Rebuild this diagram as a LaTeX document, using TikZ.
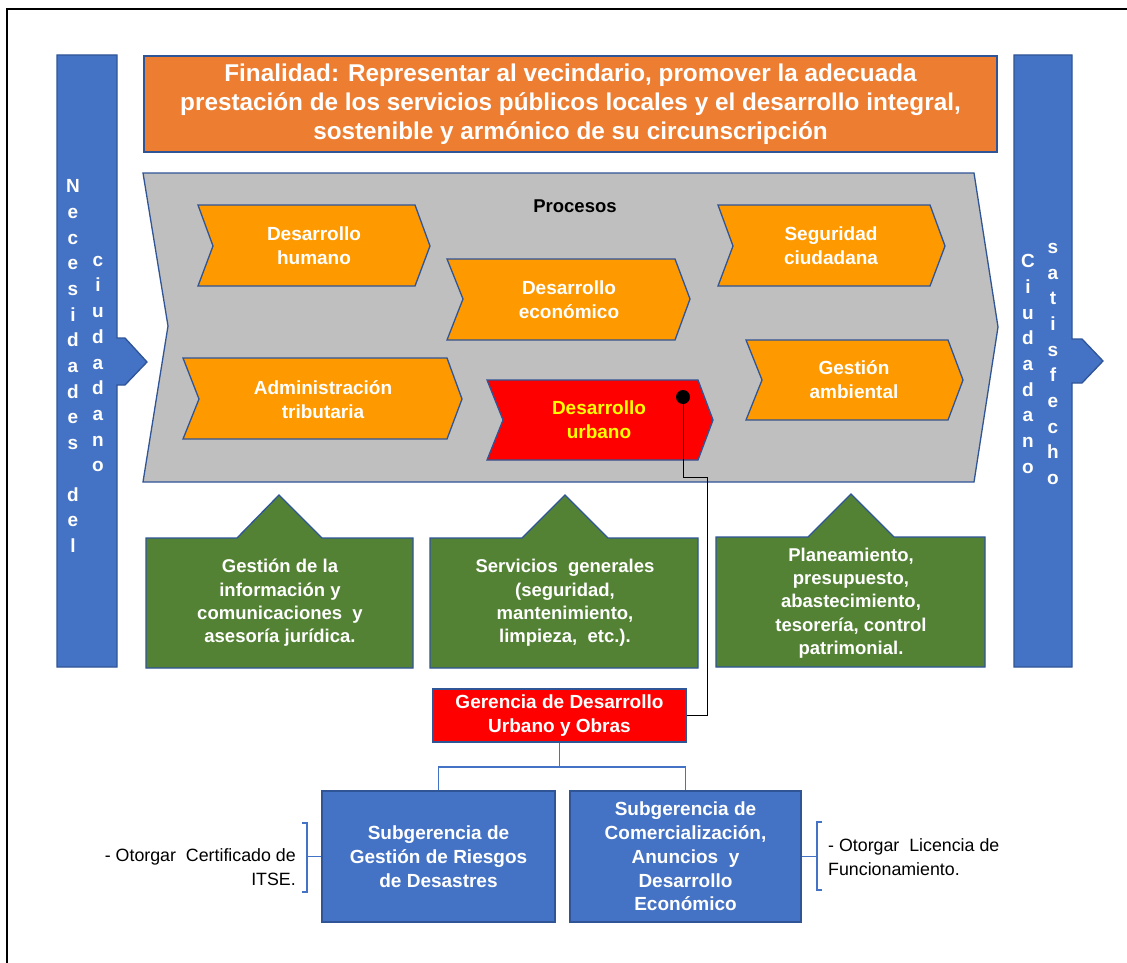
\documentclass[tikz,border=0pt]{standalone}
\usepackage{fontspec}
\setmainfont{Liberation Sans}
\definecolor{edge}{RGB}{47,85,151}
\definecolor{barblue}{RGB}{68,114,196}
\definecolor{titleorange}{RGB}{237,125,49}
\definecolor{procgray}{RGB}{191,191,191}
\definecolor{chevorange}{RGB}{255,153,0}
\definecolor{supgreen}{RGB}{84,130,53}
\definecolor{urbred}{RGB}{255,0,0}
\definecolor{urbyellow}{RGB}{255,255,0}
\begin{document}
\begin{tikzpicture}[x=1pt,y=-1pt,
  shapeline/.style={draw=edge,line width=1.3pt,line join=miter},
  boxtext/.style={text=white,font=\bfseries\fontsize{19}{23.8}\selectfont,align=center,inner sep=0pt},
  greentext/.style={text=white,font=\bfseries\fontsize{18.5}{23.3}\selectfont,align=center,inner sep=0pt},
  vtext/.style={text=white,font=\bfseries\fontsize{19}{25.7}\selectfont,align=center,inner sep=0pt},
  rectbox/.style={shapeline,inner sep=0pt},
  tree/.style={draw=barblue,line width=1.5pt},
  brace/.style={draw=barblue,line width=1.5pt},
  link/.style={draw=black,line width=0.9pt},
  note/.style={font=\fontsize{17.8}{23.5}\selectfont,inner sep=0pt}]
\useasboundingbox (0,0) rectangle (1127,963);
\fill[white] (0,0) rectangle (1127,963);
% outer frame
\draw[black,line width=1.6pt] (7,963) -- (7,9) -- (1127,9);

% side bars with arrows
\draw[shapeline,fill=barblue] (57,55) -- (117,55) -- (117,338) -- (125,338) -- (147,362)
  -- (125,385) -- (117,385) -- (117,667) -- (57,667) -- cycle;
\draw[shapeline,fill=barblue] (1014,55) -- (1072,55) -- (1072,339) -- (1082,339) -- (1103,361)
  -- (1082,383) -- (1072,383) -- (1072,667) -- (1014,667) -- cycle;
\node[vtext] (necA) at (73,366) {N\\e\\c\\e\\s\\i\\d\\a\\d\\e\\s\\~\\d\\e\\l};
\node[vtext] (necB) at (98,364) {c\\i\\u\\d\\a\\d\\a\\n\\o};
\node[vtext] (satA) at (1028,364) {C\\i\\u\\d\\a\\d\\a\\n\\o};
\node[vtext] (satB) at (1053,364) {s\\a\\t\\i\\s\\f\\e\\c\\h\\o};

% purpose
\node[rectbox,fill=titleorange,minimum width=853,minimum height=96,
  text=white,font=\bfseries\fontsize{24.3}{29}\selectfont,align=center] (fin) at (570.5,104)
  {Finalidad: Representar al vecindario, promover la adecuada\\
   prestación de los servicios públicos locales y el desarrollo integral,\\
   sostenible y armónico de su circunscripción};

% processes block
\draw[shapeline,fill=procgray] (143,173) -- (974,173) -- (998,327) -- (974,482) -- (143,482) -- (168,326) -- cycle;
\node[font=\bfseries\fontsize{18.5}{22}\selectfont,inner sep=0pt] (proc) at (575,206) {Procesos};

% process chevrons
\draw[shapeline,fill=chevorange] (198,205)--(415,205)--(430,246)--(415,286)--(198,286)--(213,246)--cycle;
\node[boxtext] (dh) at (314,246) {Desarrollo\\humano};
\draw[shapeline,fill=chevorange] (447,259)--(675,259)--(690,299)--(675,340)--(447,340)--(463,299)--cycle;
\node[boxtext] (de) at (569,300) {Desarrollo\\económico};
\draw[shapeline,fill=chevorange] (718,205)--(930,205)--(945,246)--(930,286)--(718,286)--(733,246)--cycle;
\node[boxtext] (sc) at (831,246) {Seguridad\\ciudadana};
\draw[shapeline,fill=chevorange] (183,358)--(447,358)--(462,399)--(447,439)--(183,439)--(199,399)--cycle;
\node[boxtext] (at) at (323,400) {Administración\\tributaria};
\draw[shapeline,fill=urbred] (487,380)--(698,380)--(713,420)--(698,460)--(487,460)--(503,420)--cycle;
\node[boxtext,text=urbyellow] (du) at (599,420) {Desarrollo\\urbano};
\draw[shapeline,fill=chevorange] (746,340)--(948,340)--(963,380)--(948,420)--(746,420)--(762,380)--cycle;
\node[boxtext] (ga) at (854,380) {Gestión\\ambiental};

% support boxes
\draw[shapeline,fill=supgreen] (146,538)--(237,538)--(279,495)--(322,538)--(413,538)--(413,668)--(146,668)--cycle;
\node[greentext] (sup1) at (280,603) {Gestión de la\\información y\\comunicaciones\ \ y\\asesoría jurídica.};
\draw[shapeline,fill=supgreen] (430,538)--(522,538)--(565,495)--(608,538)--(698,538)--(698,668)--(430,668)--cycle;
\node[greentext] (sup2) at (565,603) {Servicios\ \ generales\\(seguridad,\\mantenimiento,\\limpieza,\ \ etc.).};
\draw[shapeline,fill=supgreen] (716,537)--(808,537)--(851,494)--(894,537)--(985,537)--(985,667)--(716,667)--cycle;
\node[greentext] (sup3) at (851,603) {Planeamiento,\\presupuesto,\\abastecimiento,\\tesorería, control\\patrimonial.};

% management unit
\node[rectbox,fill=urbred,minimum width=253,minimum height=53] (ger) at (559.5,715.5) {};
\node[boxtext] at (ger) {Gerencia de Desarrollo\\Urbano y Obras};
\node[rectbox,fill=barblue,minimum width=233,minimum height=131] (sub1) at (438.5,856.5) {};
\node[boxtext] at (sub1) {Subgerencia de\\Gestión de Riesgos\\de Desastres};
\node[rectbox,fill=barblue,minimum width=231,minimum height=131] (sub2) at (685.5,856.5) {};
\node[boxtext] at (sub2) {Subgerencia de\\Comercialización,\\Anuncios\ \ y\\Desarrollo\\Económico};

% link from the urban development process to its unit
\coordinate (dot) at (683,397);
\coordinate (bendA) at (707,477);
\draw[link] (dot) |- (bendA) |- (ger.east);
\fill[black] (dot) circle (7);

% organisation tree
\coordinate (tj) at (559.5,767);
\draw[tree] (ger.south) -- (tj);
\draw[tree] (sub1.north) |- (tj) -| (sub2.north);

% function notes
\draw[brace] (302,823) -- (307,823) -- (307,892) -- (302,892);
\draw[brace] (sub1.west) -- (sub1.west -| 307,0);
\node[note,align=right,anchor=east] (noteL) at (296,867) {- Otorgar\ \ Certificado de\\ITSE.};
\draw[brace] (822,822) -- (817,822) -- (817,890) -- (822,890);
\draw[brace] (sub2.east) -- (sub2.east -| 817,0);
\node[note,align=left,anchor=west] (noteR) at (828,857) {- Otorgar\ \ Licencia de\\Funcionamiento.};
\end{tikzpicture}
\end{document}
